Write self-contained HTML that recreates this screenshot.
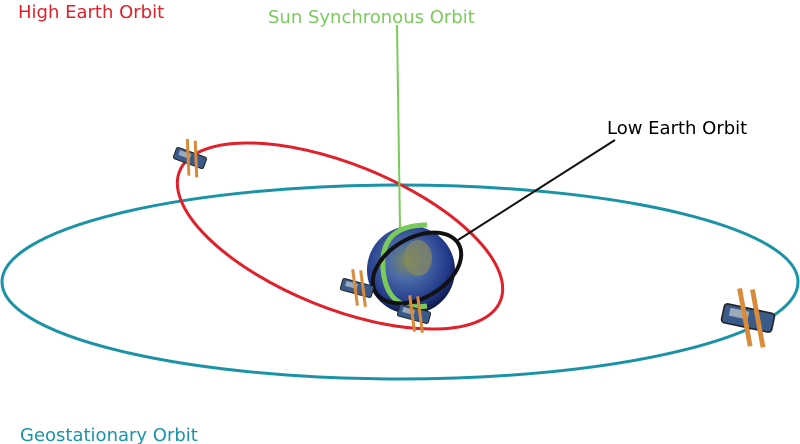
<!DOCTYPE html>
<html><head><style>
body{margin:0;background:#fff;}
svg{display:block;font-family:"DejaVu Sans","Liberation Sans",sans-serif;}
</style></head><body>
<svg width="800" height="444" viewBox="0 0 800 444">
<defs>
<radialGradient id="eg" cx="0.45" cy="0.4" r="0.6">
<stop offset="0" stop-color="#7a8a5a"/><stop offset="0.35" stop-color="#4a6aa8"/><stop offset="0.8" stop-color="#22388a"/><stop offset="1" stop-color="#0e1a4a"/>
</radialGradient>
<g id="sat">
<rect x="-16" y="-6" width="32" height="12" rx="2" fill="#3a5a8a" stroke="#222" stroke-width="1"/>
<rect x="-12" y="-4" width="12" height="5" fill="#9ab" />
<line x1="-9" y1="-17" x2="5" y2="17" stroke="#d98a3a" stroke-width="3"/>
<line x1="-1" y1="-18" x2="13" y2="16" stroke="#d98a3a" stroke-width="3"/>
</g>
</defs>
<ellipse cx="400" cy="282" rx="398" ry="97" fill="none" stroke="#1a93a6" stroke-width="3"/>
<ellipse cx="340" cy="236" rx="173" ry="72" transform="rotate(22 340 236)" fill="none" stroke="#e0202a" stroke-width="3"/>
<line x1="397" y1="25" x2="400" y2="228" stroke="#7acb5a" stroke-width="2"/>
<circle cx="411" cy="270" r="44" fill="url(#eg)"/>
<ellipse cx="418" cy="258" rx="14" ry="18" fill="#8a8a5a" opacity="0.7"/>
<path d="M427 225 Q380 225 383 268 Q386 312 427 306" fill="none" stroke="#7acb5a" stroke-width="5"/>
<ellipse cx="417" cy="268" rx="48" ry="30" transform="rotate(-30 417 268)" fill="none" stroke="#111" stroke-width="4"/>
<line x1="458" y1="240" x2="615" y2="140" stroke="#111" stroke-width="2"/>
<g transform="translate(190 158) rotate(20)"><use href="#sat"/></g>
<g transform="translate(357 288) rotate(15)"><use href="#sat"/></g>
<g transform="translate(414 314) rotate(15)"><use href="#sat"/></g>
<g transform="translate(748 318) rotate(12) scale(1.6)"><use href="#sat"/></g>
<text x="18" y="18" fill="#e0202a" font-size="18">High Earth Orbit</text>
<text x="268" y="23" fill="#7acb5a" font-size="18">Sun Synchronous Orbit</text>
<text x="607" y="134" fill="#000" font-size="18">Low Earth Orbit</text>
<text x="20" y="441" fill="#1a93a6" font-size="18">Geostationary Orbit</text>
</svg>
</body></html>
